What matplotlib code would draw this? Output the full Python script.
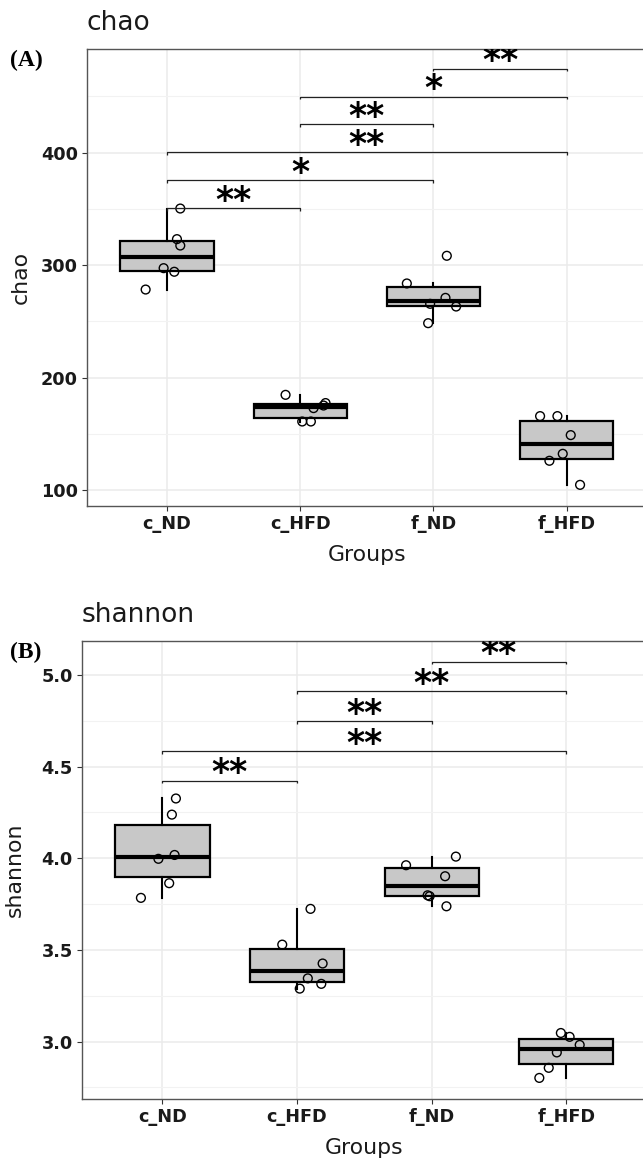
import matplotlib
matplotlib.use("Agg")
import matplotlib.pyplot as plt
import numpy as np
from matplotlib.transforms import offset_copy

# data
groups = ["c_ND", "c_HFD", "f_ND", "f_HFD"]

chao_c_nd = [350.2, 323.0, 317.3, 297.2, 294.0, 278.2]
chao_c_hfd = [184.6, 172.8, 177.3, 175.1, 160.9, 160.9]
chao_f_nd = [308.2, 283.6, 270.8, 265.5, 263.1, 248.3]
chao_f_hfd = [165.7, 165.7, 148.8, 132.2, 126.0, 104.6]

shannon_c_nd = [4.326, 4.238, 3.997, 4.018, 3.864, 3.784]
shannon_c_hfd = [3.724, 3.529, 3.426, 3.345, 3.289, 3.315]
shannon_f_nd = [3.962, 4.009, 3.902, 3.798, 3.793, 3.738]
shannon_f_hfd = [3.047, 3.026, 2.982, 2.941, 2.857, 2.802]

# horizontal jitter of the points (group units)
chao_jitter = [[0.10, 0.075, 0.10, -0.025, 0.055, -0.16],
               [-0.11, 0.10, 0.19, 0.175, 0.015, 0.08],
               [0.10, -0.20, 0.09, -0.025, 0.17, -0.04],
               [-0.20, -0.07, 0.03, -0.03, -0.13, 0.10]]
shannon_jitter = [[0.10, 0.07, -0.03, 0.09, 0.05, -0.16],
                  [0.10, -0.11, 0.19, 0.08, 0.02, 0.18],
                  [-0.19, 0.18, 0.10, -0.03, -0.015, 0.11],
                  [-0.04, 0.025, 0.10, -0.07, -0.13, -0.20]]

# significance brackets
chao_pairs = [(0, 1), (0, 2), (0, 3), (1, 2), (1, 3), (2, 3)]
chao_bar_y = [350.5, 375.3, 400.1, 424.9, 449.7, 474.5]
chao_stars = ["**", "*", "**", "**", "*", "**"]

shannon_pairs = [(0, 1), (0, 3), (1, 2), (1, 3), (2, 3)]
shannon_bar_y = [4.424, 4.584, 4.747, 4.91, 5.073]
shannon_stars = ["**", "**", "**", "**", "**"]

W, H = 643, 1160
fig = plt.figure(figsize=(W / 100, H / 100), dpi=100)
plt.rcParams["font.family"] = "DejaVu Sans"


def px_axes(left, top, right, bottom):
    return fig.add_axes([left / W, 1 - bottom / H, (right - left) / W, (bottom - top) / H])


def panel(ax, data, jitter, ylim, yticks, yminor, fmt, pairs, bar_y, stars, tip,
          title, ylabel, tag, tag_y):
    pos = np.arange(len(groups))
    ax.boxplot(data, positions=pos, widths=0.7, showfliers=False, showcaps=False,
               patch_artist=True, whis=1.5,
               boxprops=dict(facecolor="#C8C8C8", edgecolor="black", linewidth=1.6),
               medianprops=dict(color="black", linewidth=3.0),
               whiskerprops=dict(color="black", linewidth=1.5), zorder=2)
    for i, vals in enumerate(data):
        ax.scatter(pos[i] + np.array(jitter[i]), vals, s=40, facecolors="none",
                   edgecolors="black", linewidths=1.0, zorder=3)

    ax.set_xlim(-0.6, len(groups) - 0.4)
    ax.set_ylim(*ylim)
    ax.set_xticks(pos, groups)
    ax.set_yticks(yticks, [fmt.format(v) for v in yticks])
    ax.set_yticks(yminor, minor=True)
    ax.grid(True, which="major", color="#EBEBEB", lw=1.1, zorder=0)
    ax.grid(True, which="minor", axis="y", color="#F2F2F2", lw=0.8, zorder=0)
    ax.set_axisbelow(True)
    for s in ax.spines.values():
        s.set_color("#555555")
        s.set_linewidth(1.0)
    ax.tick_params(which="major", length=3.5, width=0.8, color="#333333",
                   labelsize=12.7, labelcolor="#1a1a1a", pad=3)
    ax.tick_params(which="minor", length=0)
    for lab in ax.get_xticklabels() + ax.get_yticklabels():
        lab.set_fontweight("bold")

    txt_tr = offset_copy(ax.transData, fig=fig, y=-2, units="points")
    for (a, b), y, st in zip(pairs, bar_y, stars):
        ax.plot([a, a, b, b], [y - tip, y, y, y - tip], color="#222222", lw=0.9,
                zorder=4, solid_capstyle="butt")
        ax.text((a + b) / 2, y, st, transform=txt_tr, ha="center", va="baseline",
                fontsize=25, fontweight="bold", color="black", clip_on=True, zorder=5)

    ax.text(0, 1.042, title, transform=ax.transAxes, fontsize=19, color="#1a1a1a",
            ha="left", va="baseline")
    ax.set_ylabel(ylabel, fontsize=15.8, color="#1a1a1a", va="center")
    ax.yaxis.set_label_coords(-0.118, 0.5)
    ax.set_xlabel("Groups", fontsize=15.8, color="#1a1a1a", va="baseline")
    ax.xaxis.set_label_coords(0.5, -0.12)
    fig.text(10 / W, 1 - tag_y / H, tag, family="Liberation Serif", fontweight="bold",
             fontsize=17, ha="left", va="center")


ax1 = px_axes(87, 49, 646.7, 506)
panel(ax1, [chao_c_nd, chao_c_hfd, chao_f_nd, chao_f_hfd], chao_jitter,
      (85.8, 492), [100, 200, 300, 400], [150, 250, 350, 450], "{:.0f}",
      chao_pairs, chao_bar_y, chao_stars, 2.2, "chao", "chao", "(A)", 60)

ax2 = px_axes(81.7, 641, 647, 1099)
panel(ax2, [shannon_c_nd, shannon_c_hfd, shannon_f_nd, shannon_f_hfd], shannon_jitter,
      (2.687, 5.185), [3.0, 3.5, 4.0, 4.5, 5.0], [2.75, 3.25, 3.75, 4.25, 4.75], "{:.1f}",
      shannon_pairs, shannon_bar_y, shannon_stars, 0.0136, "shannon", "shannon", "(B)", 652)

fig.savefig("out.png", dpi=100)
